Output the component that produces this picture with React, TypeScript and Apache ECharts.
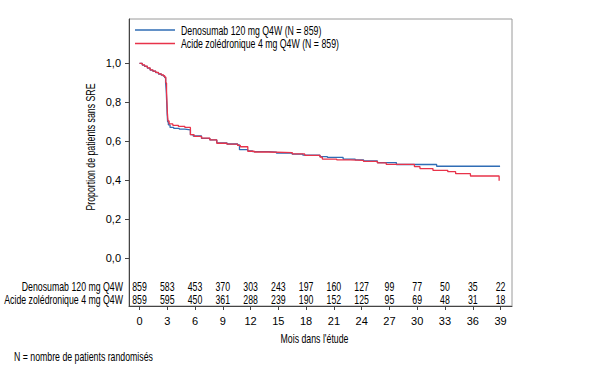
import React, { useEffect, useRef } from "react";
import * as echarts from "echarts";

const FONT = "'Liberation Sans', Arial, sans-serif";
const SX = 0.73;

const seriesNames = ["Denosumab 120 mg Q4W (N = 859)", "Acide zolédronique 4 mg Q4W (N = 859)"];
const riskRowLabels = ["Denosumab 120 mg Q4W", "Acide zolédronique 4 mg Q4W"];

const monthTicks = [0, 3, 6, 9, 12, 15, 18, 21, 24, 27, 30, 33, 36, 39];
const yTicks = [0, 0.2, 0.4, 0.6, 0.8, 1.0];

const denoTimes = [0, 0.3, 0.55, 0.85, 1.15, 1.45, 1.75, 2.05, 2.35, 2.58, 2.72, 2.82, 2.89, 2.94, 2.99, 3.04, 3.12, 3.3, 3.7, 4.3, 4.9, 5.5, 5.8, 6.7, 7.6, 8.35, 9.45, 10.6, 10.8, 11.7, 12.2, 13.9, 14.8, 16.5, 17.65, 19.5, 20.3, 22.0, 23.3, 24.2, 25.7, 27.75, 32.1, 38.95];
const denoSurv = [1.0, 0.992, 0.985, 0.976, 0.966, 0.96, 0.953, 0.946, 0.94, 0.935, 0.927, 0.9, 0.86, 0.8, 0.74, 0.7, 0.685, 0.672, 0.667, 0.663, 0.66, 0.635, 0.628, 0.616, 0.608, 0.593, 0.587, 0.582, 0.558, 0.552, 0.548, 0.545, 0.54, 0.535, 0.53, 0.522, 0.518, 0.51, 0.506, 0.5, 0.492, 0.482, 0.473, 0.473];

const zolTimes = [0, 0.3, 0.55, 0.85, 1.15, 1.45, 1.75, 2.05, 2.35, 2.58, 2.72, 2.84, 2.92, 2.97, 3.02, 3.08, 3.2, 3.6, 4.2, 4.9, 5.5, 5.9, 6.7, 7.6, 8.35, 9.45, 10.6, 10.9, 11.7, 12.4, 13.9, 16.5, 17.85, 19.5, 19.75, 21.3, 22.8, 24.2, 25.7, 26.65, 29.7, 30.3, 31.7, 33.3, 34.15, 35.75, 38.85];
const zolSurv = [1.0, 0.993, 0.986, 0.977, 0.967, 0.961, 0.954, 0.947, 0.942, 0.937, 0.93, 0.9, 0.86, 0.8, 0.74, 0.705, 0.69, 0.683, 0.677, 0.672, 0.635, 0.626, 0.617, 0.608, 0.591, 0.586, 0.58, 0.573, 0.55, 0.546, 0.543, 0.536, 0.529, 0.52, 0.51, 0.506, 0.503, 0.498, 0.49, 0.483, 0.471, 0.461, 0.452, 0.445, 0.435, 0.423, 0.399];

const denoAtRisk = [859, 583, 453, 370, 303, 243, 197, 160, 127, 99, 77, 50, 35, 22];
const zolAtRisk = [859, 595, 450, 361, 288, 239, 190, 152, 125, 95, 69, 48, 31, 18];

const riskRowY = [-0.141, -0.21];

const BLUE = "#2f6db5";
const RED = "#e8334a";

function txt(text: string, x: number, y: number, align: string, extra: any = {}) {
  return {
    type: "text",
    x,
    y,
    scaleX: SX,
    ...extra,
    style: { text, fill: "#000", font: `12px ${FONT}`, textAlign: align, textVerticalAlign: "middle" },
  };
}

export default function App() {
  const ref = useRef<HTMLDivElement>(null);
  useEffect(() => {
    if (!ref.current) return;
    const chart = echarts.init(ref.current, null, { renderer: "svg" });
    const deno = denoTimes.map((t, i) => [t, denoSurv[i]]);
    const zol = zolTimes.map((t, i) => [t, zolSurv[i]]);
    const riskData = [
      ...monthTicks.map((m, i) => [m, riskRowY[0], denoAtRisk[i]]),
      ...monthTicks.map((m, i) => [m, riskRowY[1], zolAtRisk[i]]),
    ];
    chart.setOption({
      animation: false,
      backgroundColor: "#fff",
      textStyle: { fontFamily: FONT },
      grid: {
        left: 129,
        top: 19,
        width: 383,
        height: 287,
        show: true,
        borderColor: "#9a9a9a",
        borderWidth: 1,
      },
      xAxis: {
        type: "value",
        min: -1.134,
        max: 40.24,
        axisLine: { show: true, onZero: false, lineStyle: { color: "#444", width: 1 } },
        axisTick: { show: true, length: 4, lineStyle: { color: "#444" }, customValues: monthTicks },
        axisLabel: { customValues: monthTicks, color: "#000", fontSize: 11, fontFamily: FONT, margin: 9 },
        splitLine: { show: false },
      },
      yAxis: {
        type: "value",
        min: -0.2436,
        max: 1.228,
        axisLine: { show: true, onZero: false, lineStyle: { color: "#444", width: 1 } },
        axisTick: { show: true, length: 4, lineStyle: { color: "#444" }, customValues: yTicks },
        axisLabel: {
          customValues: yTicks,
          color: "#000",
          fontSize: 11,
          fontFamily: FONT,
          margin: 8,
          formatter: (v: number) => v.toFixed(1).replace(".", ","),
        },
        splitLine: { show: false },
      },
      series: [
        {
          name: seriesNames[0],
          type: "line",
          step: "end",
          data: deno,
          symbol: "none",
          lineStyle: { color: BLUE, width: 1.3 },
          itemStyle: { color: BLUE },
          z: 3,
        },
        {
          name: seriesNames[1],
          type: "line",
          step: "end",
          data: zol,
          symbol: "none",
          lineStyle: { color: RED, width: 1.3 },
          itemStyle: { color: RED },
          z: 4,
        },
        {
          name: "atRisk",
          type: "custom",
          data: riskData,
          silent: true,
          renderItem: (params: any, api: any) => {
            const p = api.coord([api.value(0), api.value(1)]);
            return {
              type: "text",
              x: p[0],
              y: p[1],
              scaleX: SX,
              style: {
                text: String(api.value(2)),
                fill: "#000",
                font: `12px ${FONT}`,
                textAlign: "center",
                textVerticalAlign: "middle",
              },
            };
          },
        },
      ],
      graphic: [
        { type: "line", shape: { x1: 135, y1: 30, x2: 175, y2: 30 }, style: { stroke: BLUE, lineWidth: 1.3 } },
        { type: "line", shape: { x1: 135, y1: 43.5, x2: 175, y2: 43.5 }, style: { stroke: RED, lineWidth: 1.3 } },
        txt(seriesNames[0], 181, 30, "left"),
        txt(seriesNames[1], 181, 43.5, "left"),
        txt(riskRowLabels[0], 123, 286, "right"),
        txt(riskRowLabels[1], 123, 299.5, "right"),
        txt("Proportion de patients sans SRE", 90, 147, "center", { rotation: Math.PI / 2 }),
        txt("Mois dans l'étude", 314.5, 338.5, "center"),
        txt("N = nombre de patients randomisés", 14, 356, "left"),
      ],
    });
    return () => chart.dispose();
  }, []);
  return <div ref={ref} style={{ position: "fixed", left: 0, top: 0, width: 598, height: 376 }} />;
}
